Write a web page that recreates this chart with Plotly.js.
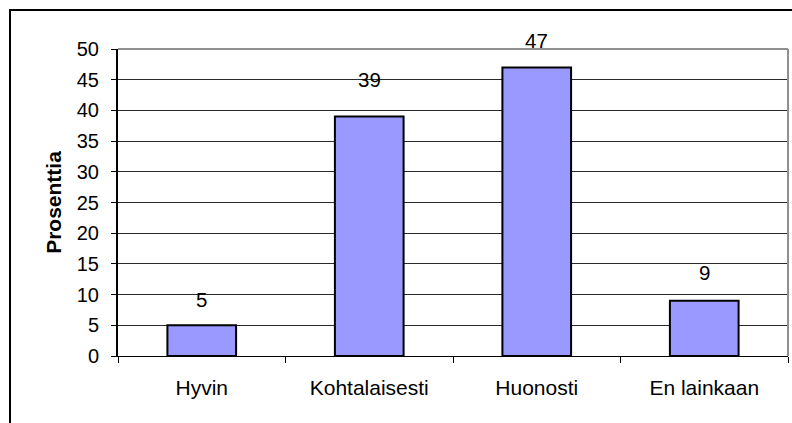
<!DOCTYPE html>
<html>
<head>
<meta charset="utf-8">
<script src="https://cdn.plot.ly/plotly-3.0.1.min.js"></script>
<style>
  html, body { margin: 0; padding: 0; background: #fff; }
  #wrap { position: relative; width: 792px; height: 423px; overflow: hidden; }
  #chart { position: absolute; left: 0; top: 0; width: 792px; height: 423px; }
  #frame { position: absolute; left: 9px; top: 9px; width: 900px; height: 600px;
           border-left: 2px solid #000; border-top: 2px solid #000; pointer-events: none; }
</style>
</head>
<body>
<div id="wrap">
  <div id="chart"></div>
  <div id="frame"></div>
</div>
<script>
const categories = ["Hyvin", "Kohtalaisesti", "Huonosti", "En lainkaan"];
const values = [5, 39, 47, 9];
const yTickValues = [0, 5, 10, 15, 20, 25, 30, 35, 40, 45, 50];
const yAxisTitle = "Prosenttia";

const labelLift = [26, 37, 27, 28];
const FONT = "Liberation Sans, Arial, sans-serif";

const trace = {
  type: "bar",
  x: categories,
  y: values,
  width: 0.41,
  marker: { color: "#9999FF", line: { color: "#000000", width: 2 } },
  hoverinfo: "none"
};

const annotations = categories.map((c, i) => ({
  x: c, y: values[i], xref: "x", yref: "y",
  text: String(values[i]), showarrow: false,
  yanchor: "middle", yshift: labelLift[i],
  font: { family: FONT, size: 20.5, color: "#000" }
}));

const layout = {
  width: 792, height: 423,
  margin: { l: 118, r: 4, t: 49, b: 67, pad: 0 },
  paper_bgcolor: "#fff", plot_bgcolor: "#fff",
  showlegend: false,
  font: { family: FONT, size: 20, color: "#000" },
  xaxis: {
    type: "category",
    tickson: "boundaries",
    ticks: "outside", ticklen: 6, tickcolor: "#000", tickwidth: 1,
    showline: true, linecolor: "#000", linewidth: 1,
    showgrid: false, zeroline: false,
    ticklabelstandoff: 13,
    tickfont: { family: FONT, size: 21, color: "#000" },
    fixedrange: true
  },
  yaxis: {
    range: [0, 50],
    tickvals: yTickValues,
    ticktext: yTickValues.map(String),
    ticks: "outside", ticklen: 5, tickcolor: "#000", tickwidth: 1,
    showline: true, linecolor: "#000", linewidth: 2,
    showgrid: true, gridcolor: "#2a2a2a", gridwidth: 1,
    zeroline: false,
    ticklabelstandoff: 8,
    tickfont: { family: FONT, size: 20, color: "#000" },
    title: { text: yAxisTitle, standoff: 9, font: { family: FONT, size: 21, color: "#000", weight: "bold" } },
    fixedrange: true
  },
  shapes: [
    { type: "line", xref: "paper", yref: "paper", x0: 0, x1: 1, y0: 1, y1: 1,
      line: { color: "#909090", width: 2 } },
    { type: "line", xref: "paper", yref: "paper", x0: 1, x1: 1, y0: 0, y1: 1,
      line: { color: "#909090", width: 2 } }
  ],
  annotations: annotations
};

Plotly.newPlot("chart", [trace], layout, { displayModeBar: false, staticPlot: true });
</script>
</body>
</html>
